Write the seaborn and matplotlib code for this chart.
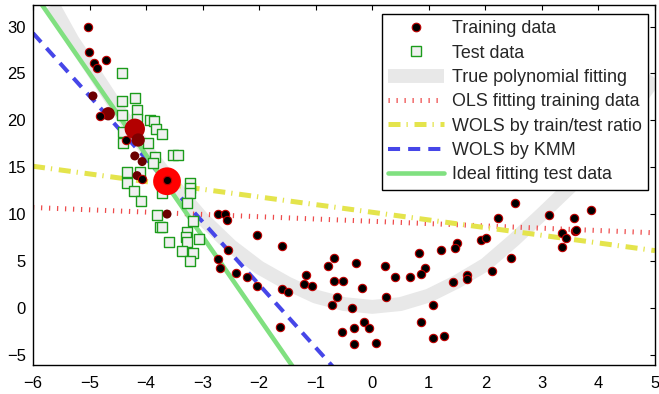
import numpy as np
import pandas as pd
import matplotlib
matplotlib.use("Agg")
import matplotlib.pyplot as plt
import seaborn as sns
from matplotlib.colors import LinearSegmentedColormap
from matplotlib.lines import Line2D

# ---------------- data ----------------
# weighted training points (importance weight > 0) and plain training points (weight 0)
train_x = [-3.63, -4.20, -4.67, -4.14, -4.94, -4.20, -4.07, -4.16, -3.63,
           -5.03, -5.01, -4.92, -4.87, -4.71, -4.82, -4.36, -4.07, -3.63,
           -2.73, -2.61, -2.57, -2.04, -1.60, -2.55, -2.73, -2.70, -2.41, -2.22,
           -2.04, -1.60, -1.49, -1.64, -0.68, -0.79, -1.18, -1.21, -1.07, -0.68,
           -0.52, -0.63, -0.72, -0.35, -0.54, -0.28, 0.22, 0.41, 0.66, 0.82,
           0.93, 0.86, 1.21, 1.49, 1.47, 1.93, 2.02, -0.19, 0.25, 1.42, 1.67,
           1.67, 1.07, 0.86, -0.33, -0.15, -0.05, -0.33, 0.06, 1.07, 1.26,
           2.52, 2.23, 2.11, 2.45, 3.12, 3.35, 3.35, 3.43, 3.56, 3.58, 3.61, 3.86]
train_y = [13.5, 19.1, 20.7, 17.9, 22.6, 16.2, 15.6, 14.1, 10.0,
           30.0, 27.3, 26.1, 25.6, 26.4, 20.5, 17.9, 13.7, 13.6,
           10.0, 10.0, 9.4, 7.8, 6.6, 6.2, 5.2, 4.2, 3.7, 3.3,
           2.3, 2.0, 1.7, -2.0, 5.3, 4.5, 3.5, 2.5, 2.3, 2.9,
           2.9, 1.2, 0.3, 0.0, -2.6, 4.8, 4.5, 3.3, 3.3, 5.8,
           4.2, 3.6, 6.2, 6.9, 6.4, 7.2, 7.4, 2.1, 1.2, 2.8, 3.5,
           3.1, 0.3, -1.5, -2.1, -1.5, -2.2, -3.9, -3.8, -3.2, -3.0,
           11.2, 9.6, 3.9, 5.3, 9.9, 8.0, 6.5, 7.4, 9.6, 8.2, 8.3, 10.4]
train_w = [1.0, 0.7, 0.5, 0.5, 0.42, 0.42, 0.42, 0.42, 0.42] + [0.0] * 72

test_x = [-4.43, -4.43, -4.20, -4.16, -4.43, -4.16, -3.93, -3.86, -3.83, -3.72,
          -4.41, -4.41, -3.97, -3.84, -3.88, -3.53, -3.44, -4.34, -4.11, -4.34,
          -4.22, -4.09, -3.72, -3.23, -3.23, -3.23, -3.28, -3.17, -3.81, -3.76,
          -3.72, -3.60, -3.28, -3.30, -3.28, -3.07, -3.37, -3.17, -3.23]
test_y = [25.0, 22.1, 22.4, 21.1, 20.6, 20.1, 20.0, 19.9, 19.1, 18.5,
          18.8, 17.6, 17.6, 16.1, 15.5, 16.3, 16.3, 14.5, 14.5, 13.3,
          12.5, 11.4, 12.3, 13.3, 12.8, 12.3, 11.2, 9.3, 9.9, 8.6,
          8.6, 7.0, 8.1, 7.6, 7.0, 7.3, 6.1, 5.9, 5.0]

true_x = [-5.65, -5.3, -5.0, -4.5, -4.0, -3.5, -3.0, -2.5, -2.0, -1.5, -1.0, -0.5,
          0.0, 0.5, 1.0, 1.5, 2.0, 2.5, 3.0, 3.5, 4.0, 4.5, 5.0]
true_y = [32.3, 28.5, 25.8, 21.2, 16.9, 13.0, 9.5, 6.6, 4.3, 2.6, 1.2, 0.4,
          0.1, 0.4, 1.3, 2.8, 4.6, 7.2, 10.0, 12.9, 16.5, 20.3, 24.5]

ols_x, ols_y = [-6.0, 5.0], [10.7, 8.0]
ratio_x, ratio_y = [-6.0, 5.0], [15.1, 6.1]
kmm_x, kmm_y = [-6.0, -0.5], [29.3, -7.6]
ideal_x, ideal_y = [-6.0, -1.3], [33.7, -7.2]

labels = ["Training data", "Test data", "True polynomial fitting",
          "OLS fitting training data", "WOLS by train/test ratio",
          "WOLS by KMM", "Ideal fitting test data"]
x_ticks = list(range(-6, 6))
y_ticks = list(range(-5, 31, 5))

# ---------------- styling ----------------
sns.set_theme(style="white")
plt.rcParams["font.family"] = ["Liberation Sans", "DejaVu Sans"]

C_GRAY = "#e8e8e8"
C_OLS = "#ee4c4c"
C_RATIO = "#e4e44c"
C_KMM = "#4646e8"
C_IDEAL = "#80e080"
C_SQ_EDGE = "#1c9c1c"
C_SQ_FACE = "#f0f0f0"
C_DOT_EDGE = "#c00000"

fig = plt.figure(figsize=(6.59, 3.94), dpi=100)
ax = fig.add_axes([0.0501, 0.0736, 0.9438, 0.9137])

sns.lineplot(x=true_x, y=true_y, ax=ax, color=C_GRAY, linewidth=10,
             solid_capstyle="butt", zorder=1)
sns.lineplot(x=ols_x, y=ols_y, ax=ax, color=C_OLS, linewidth=3.6,
             linestyle=(0, (0.25, 1.35)), zorder=2)
sns.lineplot(x=ratio_x, y=ratio_y, ax=ax, color=C_RATIO, linewidth=3.6,
             linestyle=(0, (2.4, 1.2, 0.25, 1.35)), zorder=2)
sns.lineplot(x=kmm_x, y=kmm_y, ax=ax, color=C_KMM, linewidth=2.9,
             linestyle=(0, (3, 2)), zorder=2)
sns.lineplot(x=ideal_x, y=ideal_y, ax=ax, color=C_IDEAL, linewidth=3.3, zorder=2)

test_df = pd.DataFrame({"x": test_x, "y": test_y})
sns.scatterplot(data=test_df, x="x", y="y", ax=ax, marker="s", s=58,
                color=C_SQ_FACE, edgecolor=C_SQ_EDGE, linewidth=1.0, zorder=3)

train_df = pd.DataFrame({"x": train_x, "y": train_y, "w": train_w})
weighted = train_df[train_df["w"] > 0]
plain = train_df[train_df["w"] == 0]
cmap = LinearSegmentedColormap.from_list("kr", ["#000000", "#ff0000"])
sns.scatterplot(data=weighted, x="x", y="y", hue="w", size="w", ax=ax,
                palette=cmap, hue_norm=(0, 1), sizes=(42, 400),
                size_norm=(0.42, 1.0), linewidth=0, legend=False, zorder=4)
sns.scatterplot(data=plain, x="x", y="y", ax=ax, s=36, color="black",
                edgecolor=C_DOT_EDGE, linewidth=0.8, zorder=5)

ax.set_xlim(-6, 5)
ax.set_ylim(-6.1, 32.3)
ax.set_xticks(x_ticks)
ax.set_yticks(y_ticks)
ax.set_xlabel("")
ax.set_ylabel("")
for sp in ax.spines.values():
    sp.set_visible(True)
    sp.set_color("black")
    sp.set_linewidth(1.0)
ax.tick_params(direction="in", top=True, right=True, length=3.6, width=0.8,
               labelsize=12, colors="black")
ax.tick_params(axis="x", pad=8)
ax.tick_params(axis="y", pad=5)

handles = [
    Line2D([], [], marker="o", ls="none", mfc="black", mec=C_DOT_EDGE, ms=6.2, mew=0.8),
    Line2D([], [], marker="s", ls="none", mfc=C_SQ_FACE, mec=C_SQ_EDGE, ms=7.2, mew=1.0),
    Line2D([], [], color=C_GRAY, lw=10, solid_capstyle="butt"),
    Line2D([], [], color=C_OLS, lw=3.6, ls=(0, (0.25, 1.35))),
    Line2D([], [], color=C_RATIO, lw=3.6, ls=(0, (2.4, 1.2, 0.25, 1.35))),
    Line2D([], [], color=C_KMM, lw=2.9, ls=(0, (3, 2))),
    Line2D([], [], color=C_IDEAL, lw=3.3),
]
leg = ax.legend(handles, labels, loc="upper right", bbox_to_anchor=(0.989, 0.975),
                borderaxespad=0, frameon=True, fancybox=False, framealpha=1,
                edgecolor="black", fontsize=12.9, handlelength=3.1,
                handletextpad=0.45, labelspacing=0.41, borderpad=0.35)
leg.get_frame().set_linewidth(1.0)
leg.set_zorder(10)

fig.savefig("out.png", dpi=100)
